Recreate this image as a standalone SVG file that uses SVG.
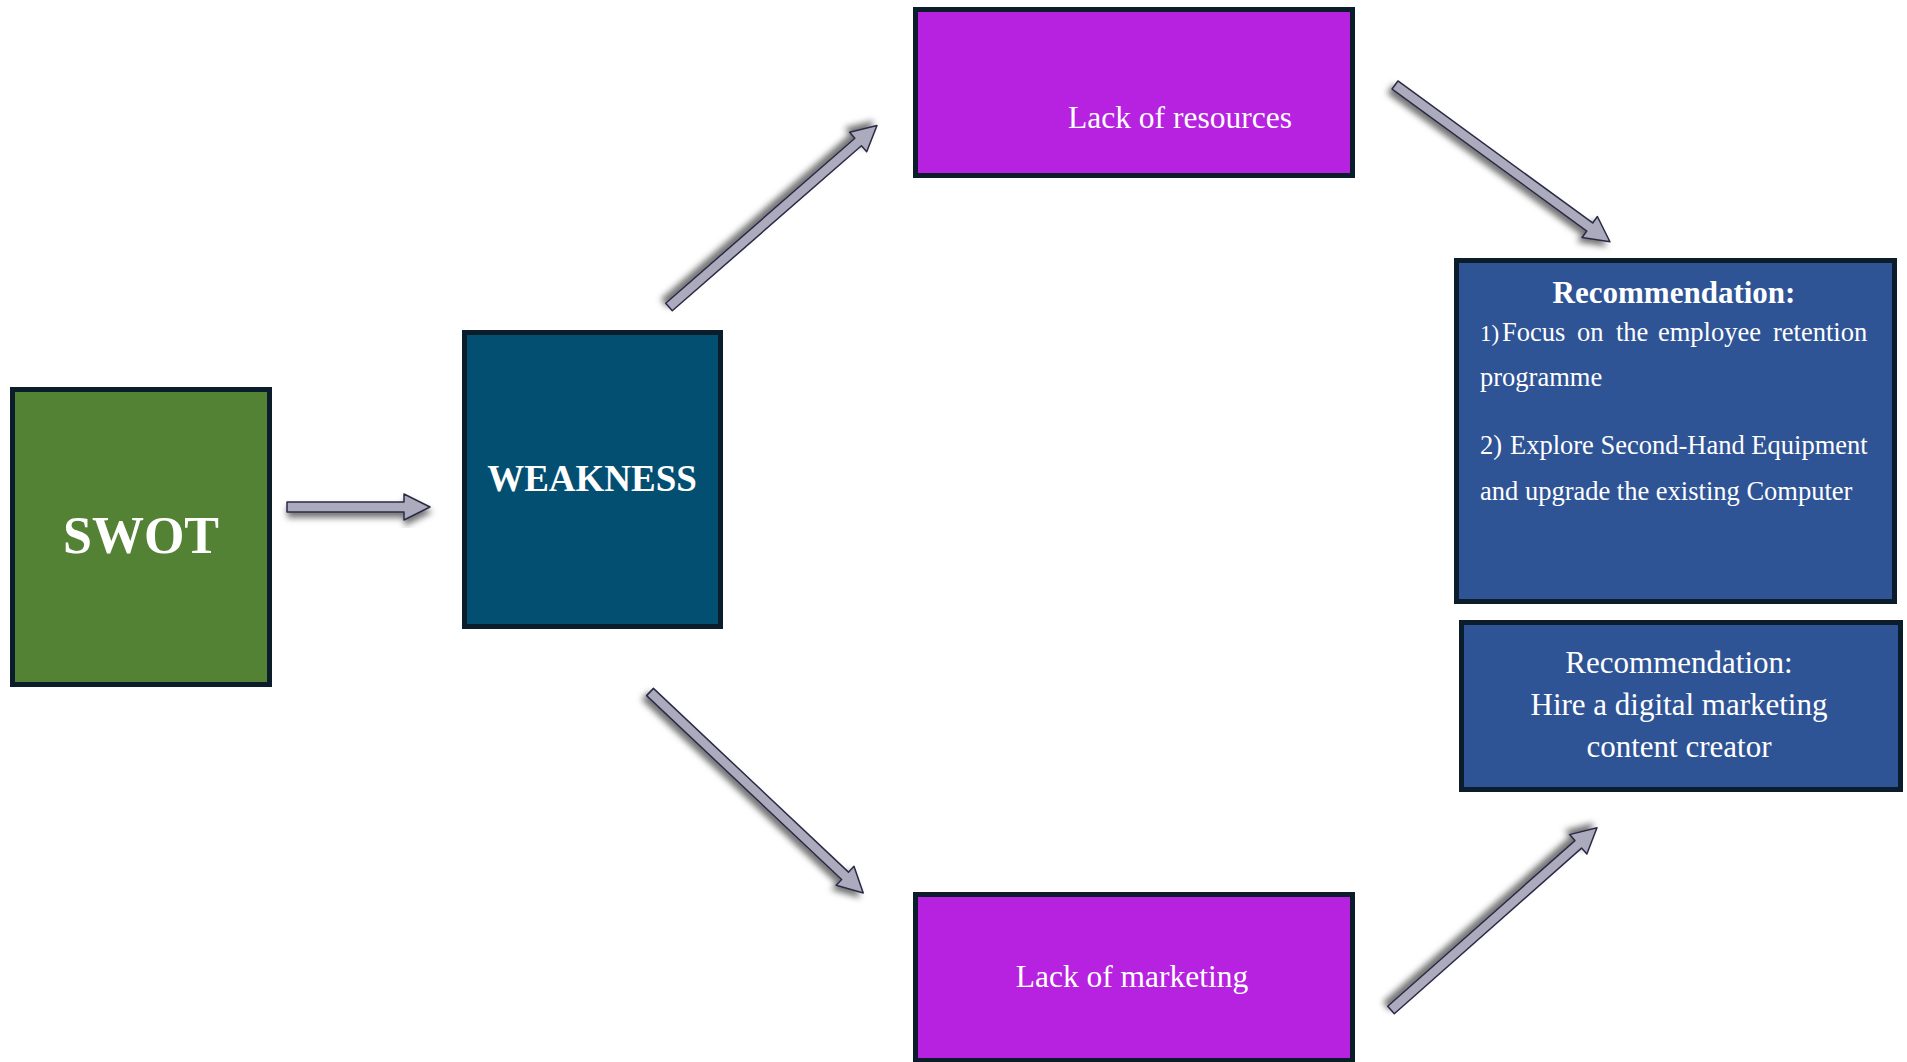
<svg xmlns="http://www.w3.org/2000/svg" width="1907" height="1062" viewBox="0 0 1907 1062">
  <style>
    .box { stroke: #0b1d2a; stroke-width: 5; }
    .txt { fill: #ffffff; font-family: "Liberation Serif", "Times New Roman", serif; }
    .bold { font-weight: bold; }
    .arrow polygon { fill: #acaabd; stroke: #2b2a45; stroke-width: 1.5; stroke-linejoin: round; }
  </style>
  <defs>
    <filter id="shDown" x="-30%" y="-30%" width="160%" height="160%">
      <feGaussianBlur in="SourceAlpha" stdDeviation="3"/>
      <feOffset dx="1" dy="5" result="b"/>
      <feFlood flood-color="#000" flood-opacity="0.55"/>
      <feComposite in2="b" operator="in"/>
      <feMerge><feMergeNode/><feMergeNode in="SourceGraphic"/></feMerge>
    </filter>
    <filter id="shUpLeft" x="-30%" y="-30%" width="160%" height="160%">
      <feGaussianBlur in="SourceAlpha" stdDeviation="3"/>
      <feOffset dx="-4" dy="-4" result="b"/>
      <feFlood flood-color="#000" flood-opacity="0.55"/>
      <feComposite in2="b" operator="in"/>
      <feMerge><feMergeNode/><feMergeNode in="SourceGraphic"/></feMerge>
    </filter>
    <filter id="shDownLeft" x="-30%" y="-30%" width="160%" height="160%">
      <feGaussianBlur in="SourceAlpha" stdDeviation="3"/>
      <feOffset dx="-4" dy="4" result="b"/>
      <feFlood flood-color="#000" flood-opacity="0.55"/>
      <feComposite in2="b" operator="in"/>
      <feMerge><feMergeNode/><feMergeNode in="SourceGraphic"/></feMerge>
    </filter>
  </defs>

  <rect width="1907" height="1062" fill="#ffffff"/>

  <!-- connectors: block arrows drawn along +x, then rotated into place -->
  <g id="connectors">
    <g class="arrow" filter="url(#shDown)">
      <polygon transform="translate(287,507)" points="0,-5 117,-5 117,-13 143,0 117,13 117,5 0,5"/>
    </g>
    <g class="arrow" filter="url(#shUpLeft)">
      <polygon transform="translate(669,307) rotate(-41.1)" points="0,-5 251,-5 251,-13 276,0 251,13 251,5 0,5"/>
    </g>
    <g class="arrow" filter="url(#shDownLeft)">
      <polygon transform="translate(1395,85) rotate(36.1)" points="0,-5 241,-5 241,-13 266,0 241,13 241,5 0,5"/>
    </g>
    <g class="arrow" filter="url(#shDownLeft)">
      <polygon transform="translate(650,692) rotate(43.3)" points="0,-5 268,-5 268,-13 293,0 268,13 268,5 0,5"/>
    </g>
    <g class="arrow" filter="url(#shUpLeft)">
      <polygon transform="translate(1391,1010) rotate(-41.5)" points="0,-5 250,-5 250,-13 275,0 250,13 250,5 0,5"/>
    </g>
  </g>

  <g id="swot">
    <rect class="box" x="12.5" y="389.5" width="257" height="295" fill="#548235"/>
    <text class="txt bold" x="141" y="553" font-size="52" text-anchor="middle">SWOT</text>
  </g>

  <g id="weakness">
    <rect class="box" x="464.5" y="332.5" width="256" height="294" fill="#034f72"/>
    <text class="txt bold" x="592" y="491" font-size="37" text-anchor="middle">WEAKNESS</text>
  </g>

  <g id="lack-of-resources">
    <rect class="box" x="915.5" y="9.5" width="437" height="166" fill="#b622e0"/>
    <text class="txt" x="1068" y="128" font-size="31.5">Lack of resources</text>
  </g>

  <g id="lack-of-marketing">
    <rect class="box" x="915.5" y="894.5" width="437" height="166" fill="#b622e0"/>
    <text class="txt" x="1132" y="987" font-size="31.5" text-anchor="middle">Lack of marketing</text>
  </g>

  <g id="recommendation-resources">
    <rect class="box" x="1456.5" y="260.5" width="438" height="341" fill="#2f5496"/>
    <text class="txt bold" x="1674" y="303" font-size="31" text-anchor="middle">Recommendation:</text>
    <g class="txt" font-size="26.5">
      <text x="1480" y="341" font-size="23">1)</text>
      <text x="1502" y="341">Focus</text>
      <text x="1577" y="341">on</text>
      <text x="1616" y="341">the</text>
      <text x="1658" y="341">employee</text>
      <text x="1773" y="341">retention</text>
      <text x="1480" y="386">programme</text>
      <text x="1480" y="454">2)</text>
      <text x="1510" y="454">Explore Second-Hand Equipment</text>
      <text x="1480" y="500">and upgrade the existing Computer</text>
    </g>
  </g>

  <g id="recommendation-marketing">
    <rect class="box" x="1461.5" y="622.5" width="439" height="167" fill="#2f5496"/>
    <g class="txt" font-size="31" text-anchor="middle">
      <text x="1679" y="673">Recommendation:</text>
      <text x="1679" y="715">Hire a digital marketing</text>
      <text x="1679" y="757">content creator</text>
    </g>
  </g>
</svg>
